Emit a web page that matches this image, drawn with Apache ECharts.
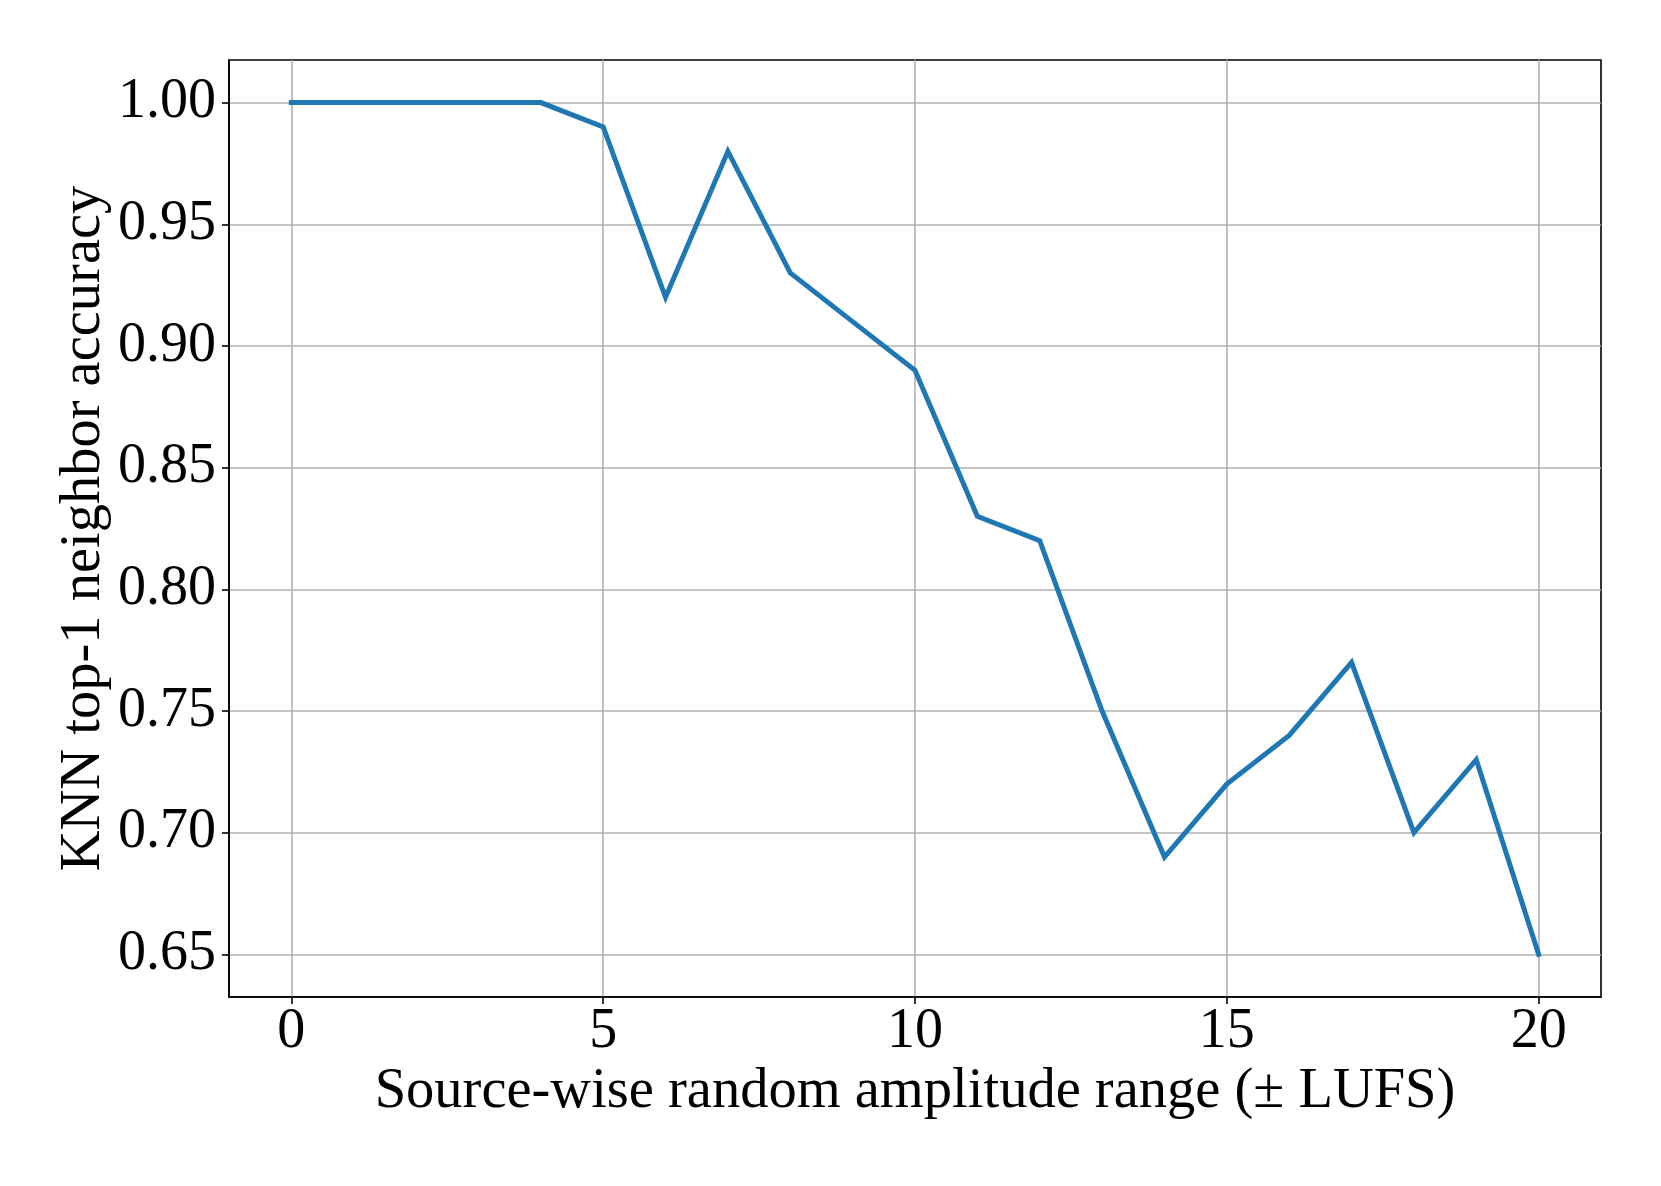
<!DOCTYPE html>
<html>
<head>
<meta charset="utf-8">
<script src="https://cdn.jsdelivr.net/npm/echarts@6/dist/echarts.min.js"></script>
<style>
  html, body { margin: 0; padding: 0; background: #fff; }
  #chart { width: 1661px; height: 1186px; }
</style>
</head>
<body>
<div id="chart"></div>
<script>
// amplitude range (x) and KNN accuracy (y)
var ranges = [0, 1, 2, 3, 4, 5, 6, 7, 8, 9, 10, 11, 12, 13, 14, 15, 16, 17, 18, 19, 20];
var accuracy = [1.00, 1.00, 1.00, 1.00, 1.00, 0.99, 0.92, 0.98, 0.93, 0.91, 0.89,
                0.83, 0.82, 0.75, 0.69, 0.72, 0.74, 0.77, 0.70, 0.73, 0.65];
var xTicks = [0, 5, 10, 15, 20];
var yTicks = [0.65, 0.70, 0.75, 0.80, 0.85, 0.90, 0.95, 1.00];

var font = '"Liberation Serif", "DejaVu Serif", serif';
var chart = echarts.init(document.getElementById('chart'));

chart.setOption({
    animation: false,
    backgroundColor: '#fff',
    grid: {
        left: 229,
        top: 60,
        right: 60,
        bottom: 189,
        show: true,
        borderColor: '#000',
        borderWidth: 1.6
    },
    xAxis: {
        type: 'value',
        min: -1,
        max: 21,
        name: 'Source-wise random amplitude range (\u00b1 LUFS)',
        nameLocation: 'middle',
        nameGap: 67,
        nameMoveOverlap: false,
        nameTextStyle: { fontFamily: font, fontSize: 56.5, color: '#000' },
        axisLine: { show: true, onZero: false, lineStyle: { color: '#000', width: 1.6 } },
        axisTick: { show: true, inside: false, length: 7, customValues: xTicks,
                    lineStyle: { color: '#000', width: 1.6 } },
        axisLabel: { customValues: xTicks, margin: 7, fontFamily: font, fontSize: 56, color: '#000' },
        splitLine: { show: true, lineStyle: { color: '#b0b0b0', width: 1.6 } }
    },
    yAxis: {
        type: 'value',
        min: 0.6325,
        max: 1.0175,
        name: 'KNN top-1 neighbor accuracy',
        nameLocation: 'middle',
        nameGap: 116,
        nameMoveOverlap: false,
        nameTextStyle: { fontFamily: font, fontSize: 56.5, color: '#000' },
        axisLine: { show: true, onZero: false, lineStyle: { color: '#000', width: 1.6 } },
        axisTick: { show: true, inside: false, length: 7, customValues: yTicks,
                    lineStyle: { color: '#000', width: 1.6 } },
        axisLabel: {
            customValues: yTicks, margin: 13, fontFamily: font, fontSize: 56, color: '#000',
            formatter: function (v) { return v.toFixed(2); }
        },
        splitLine: { show: true, lineStyle: { color: '#b0b0b0', width: 1.6 } }
    },
    series: [{
        type: 'line',
        data: ranges.map(function (x, i) { return [x, accuracy[i]]; }),
        showSymbol: false,
        symbol: 'none',
        lineStyle: { color: '#1f77b4', width: 5, cap: 'square', join: 'miter' }
    }]
});
</script>
</body>
</html>
